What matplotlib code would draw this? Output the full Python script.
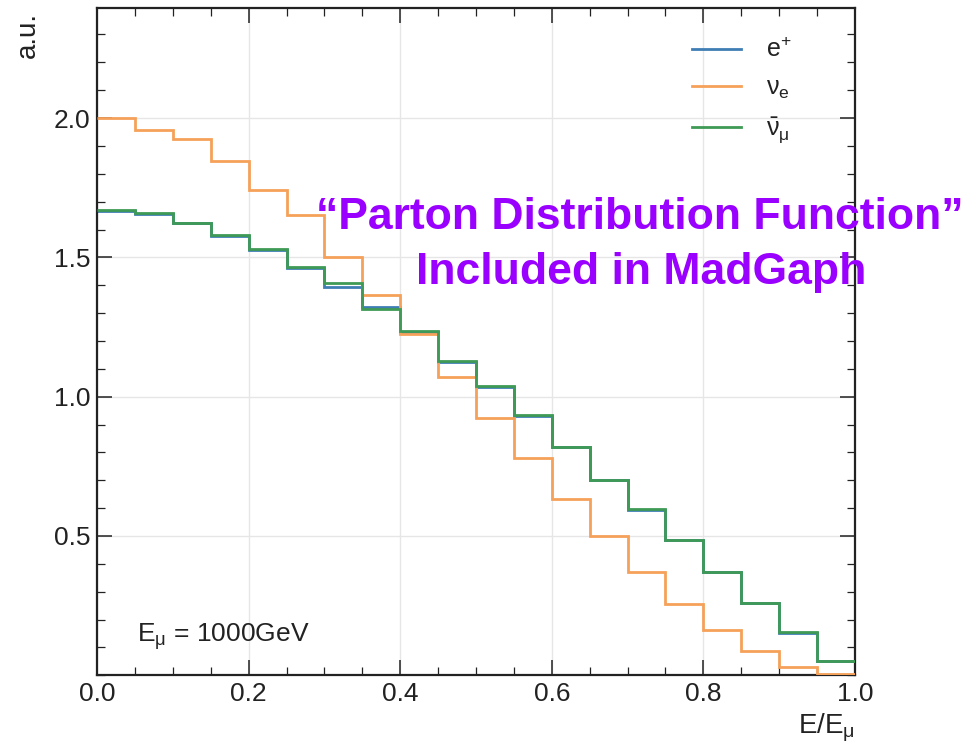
import numpy as np
import matplotlib
matplotlib.use("Agg")
import matplotlib.pyplot as plt
from matplotlib.ticker import MultipleLocator, FixedLocator
from matplotlib import font_manager

plt.rcParams['font.family'] = ['Liberation Sans', 'DejaVu Sans']
plt.rcParams['mathtext.fontset'] = 'custom'
plt.rcParams['mathtext.rm'] = 'Liberation Sans'
plt.rcParams['mathtext.it'] = 'Liberation Sans:italic'
plt.rcParams['mathtext.bf'] = 'Liberation Sans:bold'

# ---- data ----
bin_edges = [0.0, 0.05, 0.10, 0.15, 0.20, 0.25, 0.30, 0.35, 0.40, 0.45, 0.50,
             0.55, 0.60, 0.65, 0.70, 0.75, 0.80, 0.85, 0.90, 0.95, 1.0]
positron = [1.667, 1.657, 1.623, 1.578, 1.528, 1.462, 1.392, 1.321, 1.233, 1.126,
            1.035, 0.930, 0.818, 0.701, 0.595, 0.484, 0.370, 0.259, 0.153, 0.050]
nu_e = [2.000, 1.956, 1.924, 1.846, 1.740, 1.651, 1.501, 1.364, 1.226, 1.072,
        0.924, 0.780, 0.631, 0.499, 0.369, 0.256, 0.162, 0.089, 0.030, 0.004]
nubar_mu = [1.669, 1.659, 1.625, 1.579, 1.529, 1.467, 1.408, 1.313, 1.235, 1.128,
            1.037, 0.936, 0.819, 0.702, 0.596, 0.485, 0.371, 0.260, 0.154, 0.050]
series_labels = [r'$\mathregular{e^{+}}$', r'$\mathregular{\nu_{e}}$',
                 r'$\mathregular{\bar{\nu}_{\mu}}$']
x_ticks = [0.0, 0.2, 0.4, 0.6, 0.8, 1.0]
y_ticks = [0.5, 1.0, 1.5, 2.0]

W, H = 973, 751
fig = plt.figure(figsize=(W / 100, H / 100), dpi=100)
ax = fig.add_axes([97 / W, 1 - 675.3 / H, 758 / W, 667.3 / H])

colors = ['#3f7db5', '#f5a15a', '#3e9a55']
for vals, lab, c, z in zip([positron, nu_e, nubar_mu], series_labels, colors, [2, 3, 4]):
    ax.stairs(vals, bin_edges, baseline=None, color=c, lw=2.0, label=lab, zorder=z)

ax.set_xlim(0, 1.0)
ax.set_ylim(0, 2.395)
ax.xaxis.set_major_locator(FixedLocator(x_ticks))
ax.xaxis.set_minor_locator(MultipleLocator(0.05))
ax.yaxis.set_major_locator(FixedLocator(y_ticks))
ax.yaxis.set_minor_locator(MultipleLocator(0.1))
ax.set_xticklabels([f"{v:.1f}" for v in x_ticks])
ax.set_yticklabels([f"{v:.1f}" for v in y_ticks])
ax.grid(True, which='major', color='#e6e6e6', lw=1.0, zorder=0)
ax.tick_params(which='both', direction='in', top=True, right=True,
               labelsize=19, colors='#222222', labelcolor='#222222')
ax.tick_params(which='major', length=11, width=1.1, pad=5)
ax.tick_params(which='minor', length=5.5, width=0.9)
for s in ax.spines.values():
    s.set_linewidth(1.6)
    s.set_color('#222222')

leg = ax.legend(loc='upper left', bbox_to_anchor=(0.785, 0.955), frameon=False,
                fontsize=18, handlelength=1.95, handletextpad=1.0,
                labelspacing=0.55, borderaxespad=0, borderpad=0)
for t in leg.get_texts():
    t.set_color('#222222')

ax.text(137 / W, 1 - 642 / H, r'$\mathregular{E_{\mu}}$ = 1000GeV', transform=fig.transFigure,
        fontsize=19, color='#222222', va='baseline', ha='left')

fig.text(855 / W, 1 - 733 / H, r'$\mathregular{E/E_{\mu}}$', fontsize=20, color='#222222',
         ha='right', va='baseline')
fig.text(28 / W, 1 - 12 / H, 'a.u.', rotation=90, fontsize=20, color='#222222',
         ha='center', va='top')

names = {f.name for f in font_manager.fontManager.ttflist}
if 'Liberation Sans Narrow' in names:
    pfam, psize = ['Liberation Sans Narrow', 'Liberation Sans'], 38
else:
    pfam, psize = ['Liberation Sans'], 32

purple = '#9900ff'
fig.text(640 / W, 1 - 229 / H, '\u201cParton Distribution Function\u201d', fontsize=psize,
         family=pfam, fontweight='bold', color=purple, ha='center', va='baseline')
fig.text(641 / W, 1 - 284 / H, 'Included in MadGaph', fontsize=psize,
         family=pfam, fontweight='bold', color=purple, ha='center', va='baseline')

fig.savefig('out.png', dpi=100)
